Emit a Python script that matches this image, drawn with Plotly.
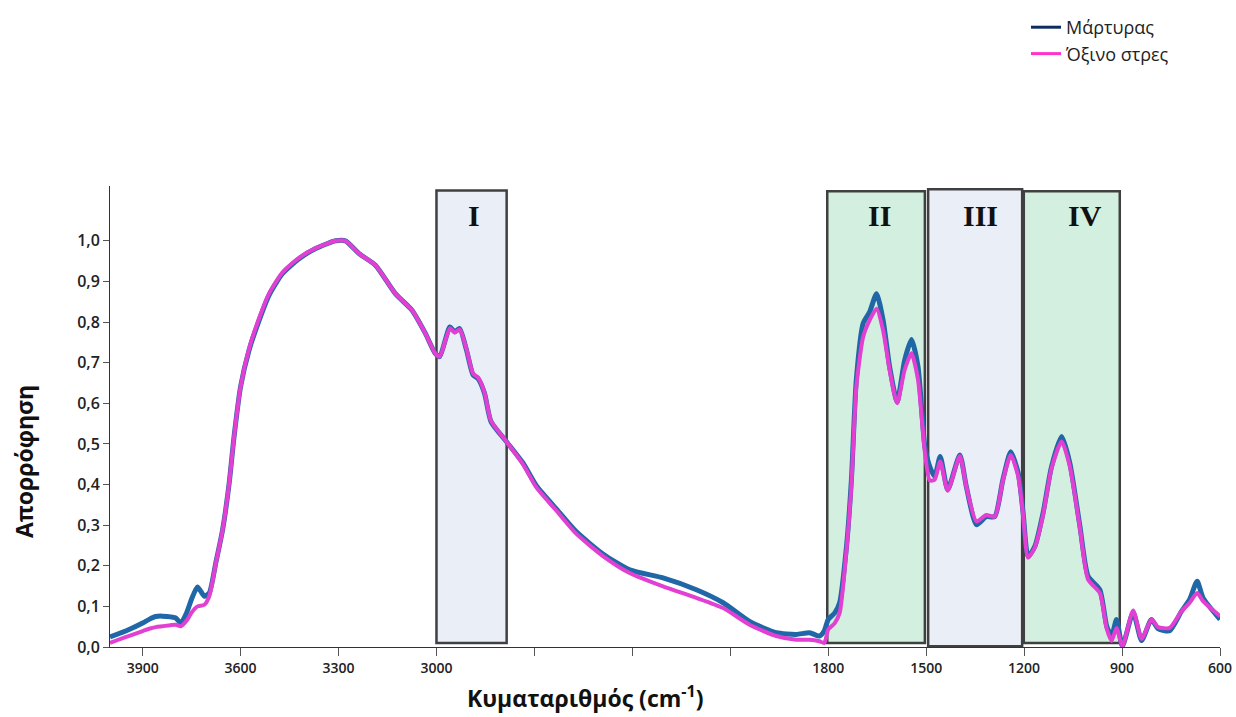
import plotly.graph_objects as go

wavenumber = [4000, 3950, 3900, 3880, 3860, 3840, 3800, 3783, 3765, 3750, 3732, 3711, 3696, 3676, 3655,
              3635, 3620, 3600, 3574, 3543, 3513, 3472, 3421, 3370, 3309, 3279, 3238, 3187, 3126, 3075,
              3034, 3004, 2990, 2959, 2944, 2929, 2908, 2888, 2873, 2853, 2833, 2786, 2735, 2694, 2633,
              2572, 2490, 2408, 2306, 2204, 2122, 2041, 1959, 1898, 1857, 1827, 1812, 1800, 1780, 1765,
              1744, 1729, 1714, 1693, 1673, 1652, 1632, 1612, 1589, 1566, 1545, 1525, 1504, 1489, 1474,
              1457, 1434, 1397, 1377, 1346, 1316, 1290, 1265, 1241, 1218, 1203, 1188, 1167, 1142, 1116,
              1085, 1060, 1029, 1004, 968, 947, 932, 917, 899, 866, 840, 810, 790, 754, 718,
              693, 670, 652, 600]

martyras = [0.025, 0.040, 0.059, 0.068, 0.075, 0.076, 0.072, 0.059, 0.085, 0.118, 0.148, 0.125, 0.133, 0.207, 0.289,
            0.403, 0.518, 0.641, 0.731, 0.805, 0.866, 0.919, 0.956, 0.981, 1.000, 1.000, 0.969, 0.940, 0.870, 0.829,
            0.772, 0.723, 0.715, 0.788, 0.776, 0.784, 0.731, 0.670, 0.661, 0.625, 0.555, 0.506, 0.453, 0.397, 0.340,
            0.284, 0.229, 0.190, 0.170, 0.141, 0.109, 0.063, 0.035, 0.031, 0.035, 0.027, 0.040, 0.068, 0.084, 0.109,
            0.248, 0.412, 0.658, 0.797, 0.825, 0.870, 0.805, 0.690, 0.604, 0.706, 0.757, 0.690, 0.493, 0.444, 0.420,
            0.469, 0.387, 0.473, 0.395, 0.301, 0.321, 0.321, 0.412, 0.481, 0.428, 0.330, 0.223, 0.248, 0.330, 0.444,
            0.518, 0.453, 0.297, 0.174, 0.141, 0.051, 0.027, 0.068, 0.002, 0.085, 0.016, 0.068, 0.045, 0.040, 0.088,
            0.117, 0.162, 0.121, 0.068]

oxino_stres = [0.010, 0.025, 0.039, 0.045, 0.049, 0.051, 0.055, 0.051, 0.065, 0.085, 0.100, 0.104, 0.125, 0.205, 0.289,
               0.403, 0.518, 0.641, 0.735, 0.810, 0.870, 0.922, 0.958, 0.982, 1.000, 1.000, 0.969, 0.940, 0.870, 0.829,
               0.772, 0.723, 0.715, 0.785, 0.774, 0.782, 0.733, 0.673, 0.664, 0.627, 0.557, 0.506, 0.450, 0.393, 0.336,
               0.279, 0.224, 0.182, 0.149, 0.121, 0.096, 0.055, 0.027, 0.018, 0.018, 0.014, 0.010, 0.043, 0.059, 0.084,
               0.240, 0.400, 0.640, 0.764, 0.805, 0.833, 0.780, 0.682, 0.600, 0.682, 0.723, 0.658, 0.480, 0.410, 0.412,
               0.457, 0.385, 0.470, 0.395, 0.309, 0.325, 0.321, 0.410, 0.473, 0.420, 0.325, 0.220, 0.245, 0.325, 0.440,
               0.506, 0.445, 0.292, 0.166, 0.133, 0.045, 0.015, 0.047, 0.002, 0.090, 0.020, 0.068, 0.049, 0.047, 0.088,
               0.109, 0.133, 0.113, 0.076]

series_names = ["Μάρτυρας", "Όξινο στρες"]

# labels 2700/2400/2100 are hidden behind the axis title in the original; only their tick marks remain
x_tickvals = [3900, 3600, 3300, 3000, 1800, 1500, 1200, 900, 600]
x_ticktext = ["3900", "3600", "3300", "3000", "1800", "1500", "1200", "900", "600"]
y_tickvals = [0.0, 0.1, 0.2, 0.3, 0.4, 0.5, 0.6, 0.7, 0.8, 0.9, 1.0]
y_ticktext = ["0,0", "0,1", "0,2", "0,3", "0,4", "0,5", "0,6", "0,7", "0,8", "0,9", "1,0"]

region_labels = ["I", "II", "III", "IV"]
region_x0 = [3000, 1803, 1494, 1201]
region_x1 = [2785, 1504, 1206, 907]
region_top = [1.124, 1.122, 1.127, 1.122]
region_bottom = [0.010, 0.010, 0.002, 0.010]
region_fill = ["#E9EEF7", "#D3EFDF", "#E9EEF7", "#D3EFDF"]
label_x = [2885, 1643, 1335, 1013]

W, H = 1236, 717
ML, MR, MT, MB = 110, 16, 186, 70
pw = W - ML - MR
ph = H - MT - MB

fig = go.Figure()

for x0, x1, top, bot, fc in zip(region_x0, region_x1, region_top, region_bottom, region_fill):
    fig.add_shape(type="rect", xref="x", yref="y", x0=x0, x1=x1, y0=bot, y1=top,
                  fillcolor=fc, line=dict(color="#404040", width=2.5), layer="below")

for lab, lx in zip(region_labels, label_x):
    fig.add_annotation(x=lx, y=1.062, xref="x", yref="y", text="<b>%s</b>" % lab, showarrow=False,
                       font=dict(family="Liberation Serif", size=30, color="#111111"))

fig.add_trace(go.Scatter(x=wavenumber, y=martyras, mode="lines", name=series_names[0], showlegend=False,
                         line=dict(color="#1F67A6", width=5, shape="spline", smoothing=0.6)))
fig.add_trace(go.Scatter(x=wavenumber, y=oxino_stres, mode="lines", name=series_names[1], showlegend=False,
                         line=dict(color="#E23FD3", width=4, shape="spline", smoothing=0.6)))

fig.add_trace(go.Scatter(x=[None], y=[None], mode="lines", name=series_names[0],
                         line=dict(color="#0E2C5E", width=3)))
fig.add_trace(go.Scatter(x=[None], y=[None], mode="lines", name=series_names[1],
                         line=dict(color="#FF33CC", width=3)))

fig.update_layout(
    width=W, height=H,
    margin=dict(l=ML, r=MR, t=MT, b=MB, autoexpand=False),
    paper_bgcolor="white", plot_bgcolor="white",
    font=dict(family="Open Sans", color="#222222"),
    legend=dict(xref="container", yref="container", x=1026 / W, y=1 - 9 / H,
                xanchor="left", yanchor="top",
                font=dict(family="Open Sans", size=18, color="#222222"),
                bgcolor="rgba(0,0,0,0)", tracegroupgap=0),
    xaxis=dict(range=[4000, 600], tickvals=x_tickvals, ticktext=x_ticktext, automargin=False,
               showgrid=False, zeroline=False, showline=True, linecolor="#333333", linewidth=1,
               ticks="outside", ticklen=8, tickcolor="#555555",
               minor=dict(tick0=600, dtick=300, ticks="outside", ticklen=8, tickcolor="#555555", showgrid=False),
               tickfont=dict(family="Open Sans", size=14, color="#222222", weight=600)),
    yaxis=dict(range=[0, 1.135], tickvals=y_tickvals, ticktext=y_ticktext, automargin=False,
               showgrid=False, zeroline=False, showline=True, linecolor="#333333", linewidth=1,
               ticks="outside", ticklen=6, tickcolor="#555555",
               tickfont=dict(family="Open Sans", size=16, color="#222222", weight=600)),
)

fig.add_annotation(x=(585 - ML) / pw, y=(H - MB - 716) / ph, xref="paper", yref="paper",
                   yanchor="bottom", text="<b>Κυματαριθμός (cm<sup>-1</sup>)</b>", showarrow=False,
                   font=dict(family="Open Sans", size=23, color="#111111"))
fig.add_annotation(x=(6 - ML) / pw, y=(H - MB - 462) / ph, xref="paper", yref="paper",
                   xanchor="left", text="<b>Απορρόφηση</b>", textangle=-90, showarrow=False,
                   font=dict(family="Open Sans", size=23, color="#111111"))

fig.write_html("out.html")
